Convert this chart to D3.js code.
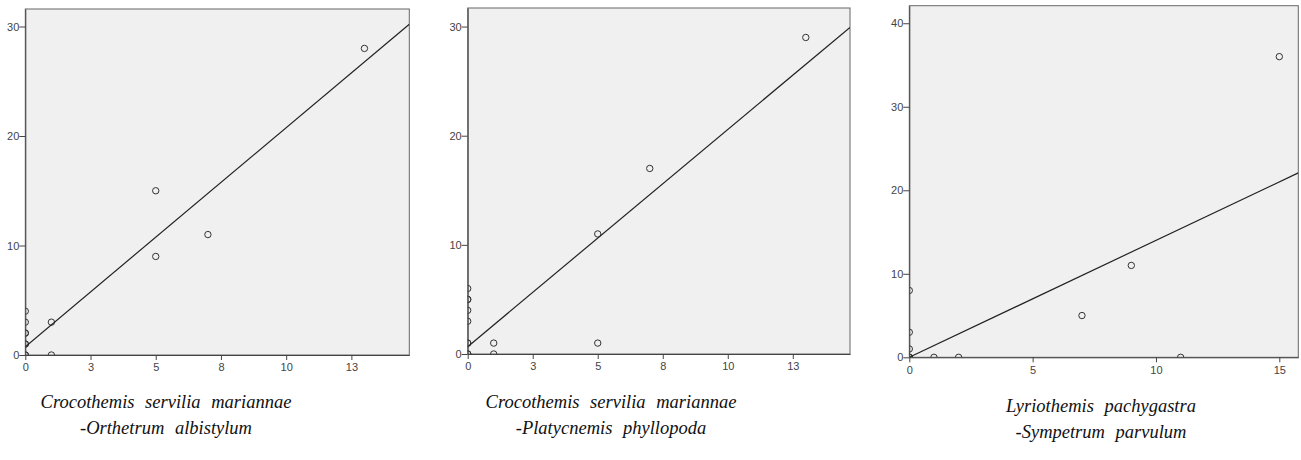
<!DOCTYPE html>
<html>
<head>
<meta charset="utf-8">
<script src="https://cdn.jsdelivr.net/npm/d3@7.9.0/dist/d3.min.js"></script>
<style>
  body { margin: 0; background: #fff; }
  svg { display: block; }
  .tick text { font-family: 'Liberation Sans', Arial, sans-serif; font-size: 11px; fill: #444; }
  .caption { font-family: 'Liberation Serif', 'Times New Roman', serif; font-style: italic; font-size: 18.5px; fill: #111; word-spacing: 6px; }
</style>
</head>
<body>
<div id="chart"></div>
<script>
// data
const panel1X = [0, 0, 0, 0, 0, 0, 0, 0, 1, 1, 5, 5, 7, 13];
const panel1Y = [4, 3, 2, 2, 1, 1, 0, 0, 3, 0, 15, 9, 11, 28];

const panel2X = [0, 0, 0, 0, 0, 0, 0, 0, 0, 1, 1, 5, 5, 7, 13];
const panel2Y = [6, 5, 5, 4, 3, 1, 1, 0, 0, 1, 0, 11, 1, 17, 29];

const panel3X = [0, 0, 0, 0, 0, 0, 1, 2, 7, 9, 11, 15];
const panel3Y = [8, 3, 1, 0, 0, 0, 0, 0, 5, 11, 0, 36];

// fitted lines (intercept, slope)
const fitIntercepts = [0.76, 0.67, 0.0];
const fitSlopes = [2.0, 1.99, 1.40];

// axis extents
const xMax = [14.72, 14.7, 15.77];
const yMax = [31.6, 31.7, 42.1];

// ticks
const xTicksA = [0, 2.5, 5, 7.5, 10, 12.5];
const xTickLabelsA = ['0', '3', '5', '8', '10', '13'];
const xTicksB = [0, 5, 10, 15];
const xTickLabelsB = ['0', '5', '10', '15'];
const yTicksA = [0, 10, 20, 30];
const yTicksB = [0, 10, 20, 30, 40];

const captionLine1 = [
    'Crocothemis servilia mariannae',
    'Crocothemis servilia mariannae',
    'Lyriothemis pachygastra',
];
const captionLine2 = [
    '-Orthetrum albistylum',
    '-Platycnemis phyllopoda',
    '-Sympetrum parvulum',
];

const width = 1301;
const height = 460;

// plot boxes in pixels, caption centre and baseline
const boxes = [
    { left: 25.3, right: 409.3, top: 9, bottom: 355, capX: 166, capY: 408 },
    { left: 467.7, right: 850, top: 8, bottom: 354, capX: 611, capY: 408 },
    { left: 909.3, right: 1298.3, top: 5.7, bottom: 357.3, capX: 1101, capY: 412 },
];

const panels = [
    { xs: panel1X, ys: panel1Y, xTicks: xTicksA, xLabels: xTickLabelsA, yTicks: yTicksA },
    { xs: panel2X, ys: panel2Y, xTicks: xTicksA, xLabels: xTickLabelsA, yTicks: yTicksA },
    { xs: panel3X, ys: panel3Y, xTicks: xTicksB, xLabels: xTickLabelsB, yTicks: yTicksB },
];

const svg = d3
    .select('#chart')
    .append('svg')
    .attr('width', width)
    .attr('height', height);

panels.forEach((p, i) => {
    const box = boxes[i];

    const xScale = d3.scaleLinear().domain([0, xMax[i]]).range([box.left, box.right]);
    const yScale = d3.scaleLinear().domain([0, yMax[i]]).range([box.bottom, box.top]);

    const g = svg.append('g');

    g.append('rect')
        .attr('x', box.left)
        .attr('y', box.top)
        .attr('width', box.right - box.left)
        .attr('height', box.bottom - box.top)
        .attr('fill', '#f0f0f0')
        .attr('stroke', '#666')
        .attr('stroke-width', 1);

    svg.append('clipPath')
        .attr('id', 'clip' + i)
        .append('rect')
        .attr('x', box.left)
        .attr('y', box.top)
        .attr('width', box.right - box.left)
        .attr('height', box.bottom - box.top);

    const inner = g.append('g').attr('clip-path', `url(#clip${i})`);

    const points = p.xs.map((x, j) => ({ x, y: p.ys[j] }));

    inner.selectAll('circle')
        .data(points)
        .join('circle')
        .attr('cx', (d) => xScale(d.x))
        .attr('cy', (d) => yScale(d.y))
        .attr('r', 3.2)
        .attr('fill', 'none')
        .attr('stroke', '#333')
        .attr('stroke-width', 1);

    const fit = (x) => fitIntercepts[i] + fitSlopes[i] * x;

    inner.append('line')
        .attr('x1', xScale(0))
        .attr('y1', yScale(fit(0)))
        .attr('x2', xScale(xMax[i]))
        .attr('y2', yScale(fit(xMax[i])))
        .attr('stroke', '#222')
        .attr('stroke-width', 1.2);

    const xAxis = d3.axisBottom(xScale)
        .tickValues(p.xTicks)
        .tickFormat((d, k) => p.xLabels[k])
        .tickSize(5)
        .tickSizeOuter(0);

    const yAxis = d3.axisLeft(yScale)
        .tickValues(p.yTicks)
        .tickSize(6)
        .tickSizeOuter(0);

    const gx = g.append('g')
        .attr('transform', `translate(0, ${box.bottom})`)
        .call(xAxis);
    gx.select('.domain').attr('stroke', '#444');
    gx.selectAll('.tick line').attr('stroke', '#444');
    gx.selectAll('.tick text').attr('dy', '0.95em').attr('y', 6);

    const gy = g.append('g')
        .attr('transform', `translate(${box.left}, 0)`)
        .call(yAxis);
    gy.select('.domain').attr('stroke', '#444');
    gy.selectAll('.tick line').attr('stroke', '#444');
    gy.selectAll('.tick text').attr('x', -6);

    const cap = svg.append('text')
        .attr('class', 'caption')
        .attr('text-anchor', 'middle');
    cap.append('tspan').attr('x', box.capX).attr('y', box.capY).text(captionLine1[i]);
    cap.append('tspan').attr('x', box.capX).attr('y', box.capY + 26).text(captionLine2[i]);
});
</script>
</body>
</html>
